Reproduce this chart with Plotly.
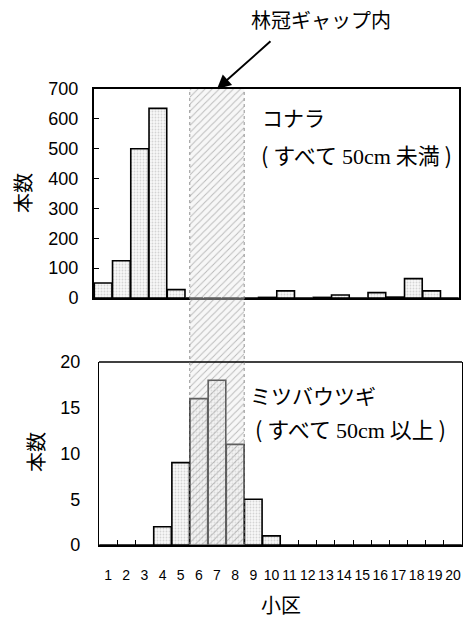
import plotly.graph_objects as go

# ---- data ----
plots = list(range(1, 21))                      # 小区 1..20
konara = [50, 125, 500, 635, 28, 0, 0, 0, 0, 2, 24, 0, 2, 10, 0, 18, 3, 65, 24, 0]
mitsubautsugi = [0, 0, 0, 2, 9, 16, 18, 11, 5, 1, 0, 0, 0, 0, 0, 0, 0, 0, 0, 0]
gap_plots = [6, 7, 8]                           # 林冠ギャップ内の小区
konara_ticks = list(range(0, 701, 100))
mitsuba_ticks = list(range(0, 21, 5))
x_tick_labels = [str(p) for p in plots]

W, H = 469, 618
def px(x):
    return x / W
def py(y):
    return 1 - y / H

CJK = "Noto Sans CJK JP"
LAT = "Liberation Sans"
SERIF = "Liberation Serif"

bar_marker = dict(
    color="#f2f2f2",
    line=dict(color="black", width=1.6),
    pattern=dict(shape=".", fgcolor="#b0b0b0", bgcolor="#f8f8f8", size=3, solidity=0.3),
)

fig = go.Figure()
fig.add_trace(go.Bar(x=plots, y=konara, xaxis="x", yaxis="y", marker=bar_marker,
                     hoverinfo="skip", showlegend=False))
fig.add_trace(go.Bar(x=x_tick_labels, y=mitsubautsugi, xaxis="x2", yaxis="y2", marker=bar_marker,
                     hoverinfo="skip", showlegend=False))
# invisible carrier for the lower tick-label axis
fig.add_trace(go.Scatter(x=plots, y=mitsubautsugi, xaxis="x4", yaxis="y2", mode="markers",
                         marker=dict(opacity=0), hoverinfo="skip", showlegend=False))

band_center = sum(gap_plots) / len(gap_plots)
band_width = len(gap_plots)
fig.add_trace(go.Bar(
    x=[band_center], y=[1], width=[band_width], xaxis="x3", yaxis="y3",
    marker=dict(color="rgba(255,255,255,0)", line=dict(width=0),
                pattern=dict(shape="/", fgcolor="rgba(105,105,105,0.9)",
                             bgcolor="rgba(235,235,235,0.4)", size=5, solidity=0.18)),
    hoverinfo="skip", showlegend=False))

top_dom_x = [px(94), px(459)]
top_dom_y = [py(298), py(89)]
bot_dom_x = [px(99), px(462)]
bot_dom_y = [py(545), py(362)]

fig.update_layout(
    width=W, height=H,
    margin=dict(l=0, r=0, t=0, b=0, autoexpand=False),
    paper_bgcolor="white",
    plot_bgcolor="rgba(0,0,0,0)",
    bargap=0.03,
    showlegend=False,
    xaxis=dict(domain=top_dom_x, anchor="y", range=[0.5, 20.5], showticklabels=False,
               ticks="", showgrid=False, zeroline=False,
               showline=True, linecolor="black", linewidth=2, mirror=True),
    yaxis=dict(domain=top_dom_y, anchor="x", range=[0, 700], tickvals=konara_ticks,
               ticks="inside", ticklen=5, tickcolor="black", showgrid=False, zeroline=False,
               showline=True, linecolor="black", linewidth=2, mirror=True,
               tickfont=dict(family=LAT, size=18, color="black"), ticklabelstandoff=10),
    xaxis2=dict(domain=bot_dom_x, anchor="y2", type="category",
                range=[-0.5, len(plots) - 0.5], showticklabels=False,
                ticks="inside", tickson="boundaries", ticklen=5, tickcolor="black", tickwidth=1,
                showgrid=False, zeroline=False,
                showline=True, linecolor="black", linewidth=2),
    xaxis4=dict(overlaying="x2", anchor="free", position=py(565), range=[0.5, 20.5],
                tickvals=plots, ticktext=x_tick_labels, tickangle=0, ticks="",
                showline=False, showgrid=False, zeroline=False,
                tickfont=dict(family=LAT, size=14, color="black")),
    yaxis2=dict(domain=bot_dom_y, anchor="x2", range=[0, 20], tickvals=mitsuba_ticks,
                ticks="", showgrid=False, zeroline=False,
                showline=True, linecolor="black", linewidth=1.3, mirror=True,
                tickfont=dict(family=LAT, size=18, color="black"), ticklabelstandoff=14),
    xaxis3=dict(domain=bot_dom_x, anchor="y3", range=[0.5, 20.5], visible=False),
    yaxis3=dict(domain=[bot_dom_y[0], top_dom_y[1]], anchor="x3", range=[0, 1], visible=False),
)

# top frame line of the lower chart (thinner than the base line)
fig.add_shape(type="line", xref="x2 domain", yref="y2 domain", x0=0, x1=1, y0=1, y1=1,
              line=dict(color="black", width=1.3))

# dotted edges of the gap band
for xe in (band_center - band_width / 2, band_center + band_width / 2):
    fig.add_shape(type="line", xref="x3", yref="y3", x0=xe, x1=xe, y0=0, y1=1,
                  line=dict(color="rgba(120,120,120,0.8)", width=1, dash="dot"))

ann = []
def txt(x, y, t, size=20, family=CJK, angle=0):
    ann.append(dict(x=px(x), y=py(y), xref="paper", yref="paper", text=t, showarrow=False,
                    font=dict(family=family, size=size, color="black"), textangle=angle,
                    xanchor="center", yanchor="middle"))

txt(321, 20, "林冠ギャップ内", 20)
txt(293, 117, "コナラ", 21)
txt(356, 154, f"( すべて <span style='font-family:{SERIF}'>50cm</span> 未満 )", 22)
txt(313, 395, "ミツバウツギ", 21)
txt(350, 428, f"( すべて <span style='font-family:{SERIF}'>50cm</span> 以上 )", 22)
txt(22, 193, "本数", 20, angle=-90)
txt(35, 452, "本数", 20, angle=-90)
txt(281, 604, "小区", 20)

# arrow pointing to the top of the gap band
ann.append(dict(x=band_center, y=top_dom_y[1], xref="x3", yref="paper", text="",
                showarrow=True, arrowhead=2, arrowsize=1.4, arrowwidth=2, arrowcolor="black",
                ax=55, ay=-49, axref="pixel", ayref="pixel", standoff=0))

fig.update_layout(annotations=ann)
fig.write_html("out.html")
